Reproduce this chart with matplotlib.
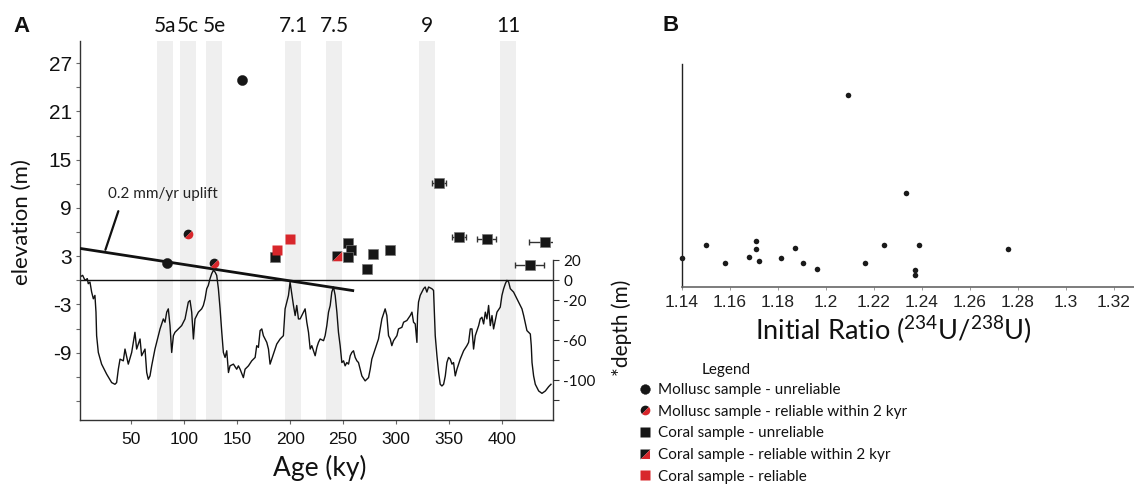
import matplotlib
matplotlib.use('Agg')
import numpy as np
import matplotlib.pyplot as plt
from matplotlib.markers import MarkerStyle
from matplotlib.transforms import Affine2D, blended_transform_factory
from matplotlib.path import Path
from matplotlib.lines import Line2D
from matplotlib.legend_handler import HandlerTuple

# ---------------- data ----------------
band_labels = ['5a', '5c', '5e', '7.1', '7.5', '9', '11']
band_start = [74.3, 96.0, 120.7, 195.5, 234.2, 321.9, 398.4]
band_end = [89.0, 110.9, 135.6, 210.3, 249.0, 336.8, 413.2]

moll_unrel_age = [154.4, 83.7]
moll_unrel_elev = [24.9, 2.1]
moll_rel2_age = [103.2, 128.3]
moll_rel2_elev = [5.8, 2.1]
coral_unrel_age = [185.8, 254.8, 257.6, 254.8, 272.9, 278.5, 294.5, 340.5, 359.3, 385.8, 426.2, 440.8]
coral_unrel_elev = [2.95, 4.7, 3.8, 2.9, 1.4, 3.25, 3.8, 12.1, 5.35, 5.2, 1.9, 4.8]
coral_unrel_xerr = [0, 0, 0, 0, 0, 0, 0, 6.2, 6.6, 8.9, 13.7, 15.1]
coral_rel2_age = [244.0]
coral_rel2_elev = [3.0]
coral_rel_age = [187.9, 199.4]
coral_rel_elev = [3.8, 5.15]

uplift_age = [0.0, 260.4]
uplift_elev = [4.0, -1.3]
uplift_text = '0.2 mm/yr uplift'
uplift_text_pos = (28.3, 10.7)
uplift_ptr_from = (37.7, 8.6)
uplift_ptr_to = (25.5, 3.8)

sl_age = [1.5, 4.0, 6.2, 8.4, 9.3, 10.9, 12.5, 14.1, 15.6, 16.6, 17.2, 18.8, 21.9, 26.7, 31.4,
          34.5, 36.1, 37.7, 39.3, 42.4, 44.0, 47.1, 50.3, 53.4, 55.0, 58.2, 59.7, 62.9, 64.5,
          66.0, 67.6, 69.2, 72.3, 75.5, 77.1, 80.2, 81.8, 83.4, 84.9, 86.5, 88.1, 89.7, 91.2,
          94.4, 97.5, 100.7, 103.8, 105.4, 107.0, 108.6, 110.1, 113.3, 116.4, 118.0, 119.6,
          121.2, 122.7, 124.3, 125.9, 127.5, 129.0, 130.6, 132.2, 133.8, 135.4, 136.9, 138.5,
          140.1, 141.7, 143.2, 146.4, 149.5, 151.1, 152.7, 155.8, 157.4, 160.6, 163.7, 166.9,
          168.4, 170.0, 171.6, 173.2, 174.7, 177.9, 179.5, 181.0, 184.2, 187.3, 190.5, 193.6,
          195.2, 198.4, 199.9, 201.5, 203.1, 204.7, 206.2, 207.8,
          209.4, 212.6, 214.1, 215.7, 217.3, 218.9, 220.4, 222.0, 223.6, 225.2, 226.7, 228.3,
          231.5, 233.0, 234.6, 236.2, 237.8, 239.3, 240.9, 242.5, 244.1, 245.6, 247.2, 248.8,
          250.4, 251.9, 253.5, 255.1, 256.7, 258.2, 259.8, 261.4, 263.0, 264.5, 266.1, 267.7,
          270.8, 274.0, 275.6, 277.1, 280.3, 283.4, 285.0, 286.6, 288.2, 289.7, 291.3, 292.9,
          294.5, 296.0, 297.6, 300.8, 302.3, 305.5, 307.1, 310.2, 313.4, 315.0, 316.5, 318.1,
          319.7, 320.3, 321.2, 322.8, 326.0, 327.5, 329.1, 330.7, 333.8, 335.4, 337.0, 338.6,
          340.2, 341.7, 343.3, 344.9, 346.5, 348.0, 349.6, 351.2, 352.8, 354.3, 355.9, 357.5,
          360.6, 363.8, 366.9, 368.5, 370.1, 371.7, 373.2, 374.8, 378.0, 379.5, 381.1, 382.7,
          384.3, 385.8, 387.4, 389.0, 390.6, 392.1, 395.3, 398.4, 400.0, 401.6, 403.2, 404.7,
          406.3, 407.9, 411.0, 414.2, 417.3, 418.9, 420.5, 423.6, 426.8, 427.7, 428.4, 429.9,
          431.5, 434.7, 437.8, 441.0, 444.1, 446.3]
sl_depth = [3.4, 5.0, 0.0, 1.7, -3.4, -1.7, -11.8, -18.5, -15.1, -31.9, -55.5, -72.3, -84.0, -94.1,
            -102.5, -104.2, -102.5, -89.1, -79.0, -80.7, -68.9, -84.0, -72.3, -52.1, -68.9, -58.8,
            -75.6, -68.9, -92.4, -99.2, -95.8, -85.7, -68.9, -55.5, -48.7, -38.7, -42.0, -31.9,
            -28.6, -45.4, -72.3, -55.5, -52.1, -48.7, -45.4, -38.7, -21.8, -20.2, -31.9, -58.8,
            -38.7, -31.9, -28.6, -25.2, -18.5, -8.4, -5.0, 1.7, 6.7, 10.1, 8.4, 5.0, -8.4, -28.6,
            -52.1, -72.3, -77.3, -70.6, -92.4, -85.7, -84.0, -89.1, -85.7, -89.1, -97.5, -89.1,
            -85.7, -80.7, -77.3, -65.5, -67.2, -50.4, -48.7, -55.5, -62.2, -68.9, -84.0, -73.9,
            -63.9, -58.8, -55.5, -28.6, -15.1, -1.7, -13.4, -25.2, -35.3, -25.2, -38.7,
            -38.7, -31.9, -28.6, -42.0, -52.1, -68.9, -65.5, -70.6, -75.6, -67.2, -62.2, -58.8,
            -60.5, -55.5, -45.4, -31.9, -25.2, -11.8, -6.7, -15.1, -31.9, -52.1, -65.5, -82.4,
            -80.7, -85.7, -82.4, -84.0, -75.6, -72.3, -70.6, -77.3, -80.7, -82.4, -89.1, -95.8,
            -100.8, -97.5, -89.1, -79.0, -68.9, -58.8, -48.7, -38.7, -33.6, -28.6, -35.3, -55.5,
            -58.8, -65.5, -60.5, -55.5, -48.7, -47.1, -42.0, -40.3, -35.3, -31.9, -42.0, -43.7,
            -62.2, -35.3, -21.8, -15.1, -8.4, -6.7, -11.8, -6.7, -8.4, -10.1, -55.5, -75.6,
            -92.4, -104.2, -105.9, -104.2, -95.8, -82.4, -77.3, -79.0, -84.0, -82.4, -95.8, -89.1,
            -79.0, -70.6, -65.5, -62.2, -48.7, -48.7, -68.9, -55.5, -45.4, -38.7, -37.0, -43.7,
            -31.9, -38.7, -25.2, -45.4, -35.3, -48.7, -31.9, -26.9, -15.1, -8.4, -3.4, 0.0,
            -1.7, -8.4, -11.8, -18.5, -25.2, -28.6, -35.3, -50.4, -53.8, -65.5, -82.4, -95.8,
            -104.2, -110.9, -113.3, -110.9, -106.6, -104.2]

elev_ticks = [27, 21, 15, 9, 3, -3, -9]
elev_minor = [24, 18, 12, 6, 0, -6, -12, -15]
depth_ticks = [20, 0, -20, -40, -60, -80, -100, -120]
depth_ticklabels = ['20', '0', '-20', '', '-60', '', '-100', '']
age_ticks = [50, 100, 150, 200, 250, 300, 350, 400]

ratio_vals = [1.1400, 1.1502, 1.1580, 1.1681, 1.1711, 1.1711, 1.1721, 1.1813, 1.1871, 1.1904,
              1.1962, 1.2093, 1.2165, 1.2245, 1.2335, 1.2374, 1.2374, 1.2387, 1.2760]
ratio_elev = [3.77, 5.41, 3.15, 3.90, 6.03, 4.88, 3.41, 3.81, 5.05, 3.10,
              2.30, 25.0, 3.10, 5.50, 12.19, 2.26, 1.60, 5.45, 4.92]
ratio_ticks = [1.14, 1.16, 1.18, 1.20, 1.22, 1.24, 1.26, 1.28, 1.30, 1.32]
ratio_ticklabels = ['1.14', '1.16', '1.18', '1.2', '1.22', '1.24', '1.26', '1.28', '1.3', '1.32']

legend_labels = ['Mollusc sample - unreliable',
                 'Mollusc sample - reliable within 2 kyr',
                 'Coral sample - unreliable',
                 'Coral sample - reliable within 2 kyr',
                 'Coral sample - reliable']

# ---------------- style ----------------
RED = '#d8262b'
BLK = '#161616'
BAND = '#efefef'
TXT = ['Lato', 'DejaVu Sans']
NUM = ['Liberation Sans', 'DejaVu Sans']
plt.rcParams['mathtext.fontset'] = 'custom'
plt.rcParams['mathtext.rm'] = 'Lato'
plt.rcParams['font.family'] = TXT

W, H = 1134, 484
fig = plt.figure(figsize=(W / 100, H / 100), dpi=100)
fig.patch.set_facecolor('white')

# Panel A axes
axA_box = [80 / W, 1 - 420 / H, (553.3 - 80) / W, (420 - 40.7) / H]
axA = fig.add_axes(axA_box)           # elevation axis (left, on top)
axD = axA.twinx()                     # depth axis (right, below)
axA.set_zorder(axD.get_zorder() + 1)
axA.patch.set_visible(False)
axD.patch.set_visible(False)

xlim = (1.5, 448.5)
elev_lim = (-17.37, 29.8)
k = 8.06
axA.set_xlim(*xlim)
axA.set_ylim(*elev_lim)
axD.set_ylim(elev_lim[0] * k, elev_lim[1] * k)

# bands
for s, e in zip(band_start, band_end):
    axD.axvspan(s, e, color=BAND, lw=0, zorder=0)
trans_lab = blended_transform_factory(axD.transData, fig.transFigure)
for s, e, lab in zip(band_start, band_end, band_labels):
    fig.text((s + e) / 2, 1 - 25.5 / H, lab, transform=trans_lab, ha='center', va='center',
             fontsize=15, family=TXT, color='#111')

# sea level curve + zero line
axD.axhline(0, color='#111', lw=1.0, zorder=2)
axD.plot(sl_age, sl_depth, color='#111', lw=1.0, zorder=3)

# uplift line
axA.plot(uplift_age, uplift_elev, color='#111', lw=2.0, zorder=3, solid_capstyle='butt')
axA.annotate('', xy=uplift_ptr_to, xytext=uplift_ptr_from,
             arrowprops=dict(arrowstyle='-', lw=1.6, color='#111', shrinkA=0, shrinkB=0))
axA.text(uplift_text_pos[0], uplift_text_pos[1], uplift_text, fontsize=11, family=TXT,
         va='center', ha='left', color='#222')

# markers
half_circle = MarkerStyle('o', fillstyle='top', transform=Affine2D().rotate_deg(45))
tri_ul = Path([(-1, -1), (-1, 1), (1, 1), (-1, -1)], [1, 2, 2, 79])
tri_lr = Path([(-1, -1), (1, 1), (1, -1), (-1, -1)], [1, 2, 2, 79])

xe = np.array(coral_unrel_xerr)
ca = np.array(coral_unrel_age)
ce = np.array(coral_unrel_elev)
m = xe > 0
axA.errorbar(ca[m], ce[m], xerr=xe[m], fmt='none', ecolor='#333', elinewidth=1.0,
             capsize=2, capthick=1.0, zorder=4)
axA.plot(ca, ce, ls='none', marker='s', ms=6.9, mfc=BLK, mec='#777', mew=0.5, zorder=5)
axA.plot(coral_rel_age, coral_rel_elev, ls='none', marker='s', ms=6.9, mfc=RED, mec='none', zorder=6)
axA.plot(coral_rel2_age, coral_rel2_elev, ls='none', marker=MarkerStyle(tri_ul), ms=6.9,
         mfc=BLK, mec='none', zorder=6)
axA.plot(coral_rel2_age, coral_rel2_elev, ls='none', marker=MarkerStyle(tri_lr), ms=6.9,
         mfc=RED, mec='none', zorder=6)
axA.plot(moll_unrel_age, moll_unrel_elev, ls='none', marker='o', ms=7.3, mfc=BLK, mec=BLK,
         mew=0.3, zorder=6)
axA.plot(moll_rel2_age, moll_rel2_elev, ls='none', marker=half_circle, ms=7.0,
         mfc=BLK, mfcalt=RED, mew=0, zorder=6)

# axes styling A
for sp in ['top', 'left', 'bottom']:
    axD.spines[sp].set_visible(False)
for sp in ['top', 'right']:
    axA.spines[sp].set_visible(False)
axD.spines['right'].set_bounds(-140, 20)
axD.spines['right'].set_color('#333')
axA.spines['left'].set_color('#333')
axA.spines['bottom'].set_color('#333')
axA.spines['left'].set_linewidth(1.0)
axA.spines['bottom'].set_linewidth(1.0)
axD.spines['right'].set_linewidth(1.0)

axA.set_yticks(elev_ticks)
axA.set_yticklabels([str(v) for v in elev_ticks])
axA.set_yticks(elev_minor, minor=True)
axA.tick_params(axis='y', which='both', length=3, width=0.8, color='#666', pad=3,
                labelsize=15, labelcolor='#111')
for t in axA.get_yticklabels():
    t.set_family(NUM)
axA.set_xticks(age_ticks)
axA.set_xticklabels([str(v) for v in age_ticks])
axA.tick_params(axis='x', length=3, width=0.8, color='#666', pad=6, labelsize=12.5,
                labelcolor='#111')
for t in axA.get_xticklabels():
    t.set_family(NUM)
axD.set_yticks(depth_ticks)
axD.set_yticklabels(depth_ticklabels)
axD.tick_params(axis='y', length=4, width=0.8, color='#333', pad=3, labelsize=11,
                labelcolor='#111')
for t in axD.get_yticklabels():
    t.set_family(TXT)

fig.text(320 / W, 1 - 468 / H, 'Age (ky)', ha='center', va='center', fontsize=19, family=TXT,
         color='#111')
fig.text(22 / W, 1 - 222 / H, 'elevation (m)', ha='center', va='center', rotation=90,
         fontsize=16, family=TXT, color='#111')
fig.text(622 / W, 1 - 328 / H, '*depth (m)', ha='center', va='center', rotation=90,
         fontsize=15, family=TXT, color='#111')

fig.text(21 / W, 1 - 26 / H, 'A', ha='center', va='center', fontsize=16, weight='bold',
         family=NUM, color='#111')
fig.text(670.5 / W, 1 - 25.5 / H, 'B', ha='center', va='center', fontsize=16, weight='bold',
         family=NUM, color='#111')

# Panel B
axB = fig.add_axes([681.7 / W, 1 - 287 / H, (W - 681.7) / W, (287 - 64) / H])
axB.plot(ratio_vals, ratio_elev, ls='none', marker='o', ms=4.0, mfc='#1a1a1a', mec='none',
         clip_on=False)
axB.set_xlim(1.14, 1.3285)
axB.set_ylim(0, 29)
axB.set_yticks([])
axB.set_xticks(ratio_ticks)
axB.set_xticklabels(ratio_ticklabels)
axB.tick_params(axis='x', length=2, width=0.6, color='#888', pad=4, labelsize=12.5,
                labelcolor='#222')
for t in axB.get_xticklabels():
    t.set_family(NUM)
for sp in ['top', 'right']:
    axB.spines[sp].set_visible(False)
axB.spines['left'].set_color('#222')
axB.spines['bottom'].set_color('#666')
axB.spines['left'].set_linewidth(1.0)
axB.spines['bottom'].set_linewidth(1.2)
axB.patch.set_visible(False)
fig.text(893 / W, 1 - 330 / H, r'Initial Ratio ($\mathregular{^{234}}$U/$\mathregular{^{238}}$U)',
         ha='center', va='center', fontsize=19.5, family=TXT, color='#111')

# Legend
h1 = Line2D([], [], ls='none', marker='o', ms=7, mfc=BLK, mec=BLK, mew=0.3)
h2 = Line2D([], [], ls='none', marker=half_circle, ms=7, mfc=BLK, mfcalt=RED, mew=0)
h3 = Line2D([], [], ls='none', marker='s', ms=6.5, mfc=BLK, mec='none')
h4a = Line2D([], [], ls='none', marker=MarkerStyle(tri_ul), ms=6.5, mfc=BLK, mec='none')
h4b = Line2D([], [], ls='none', marker=MarkerStyle(tri_lr), ms=6.5, mfc=RED, mec='none')
h5 = Line2D([], [], ls='none', marker='s', ms=6.5, mfc=RED, mec='none')
leg = fig.legend([h1, h2, h3, (h4a, h4b), h5], legend_labels,
                 handler_map={tuple: HandlerTuple(ndivide=1, pad=0)},
                 loc='upper left', bbox_to_anchor=(637.7 / W, 1 - 383 / H),
                 frameon=False, numpoints=1, handlelength=0.95, handletextpad=0.4,
                 borderpad=0, borderaxespad=0, labelspacing=0.5,
                 prop={'family': TXT, 'size': 11})
for t in leg.get_texts():
    t.set_color('#111')
fig.text(725.7 / W, 1 - 370 / H, 'Legend', ha='center', va='center', fontsize=11,
         family=TXT, color='#111')

fig.savefig('out.png', dpi=100, facecolor='white')
